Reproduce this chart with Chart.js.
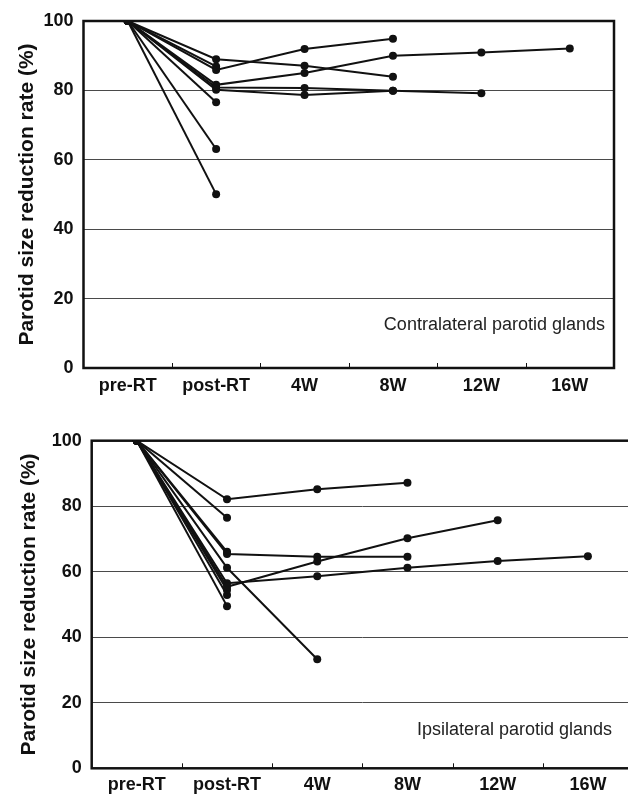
<!DOCTYPE html>
<html><head><meta charset="utf-8">
<script src="https://cdn.jsdelivr.net/npm/chart.js@4"></script>
<style>
html,body{margin:0;padding:0;background:#fff;width:628px;height:799px;overflow:hidden;position:relative}
#c1wrap{position:absolute;left:0;top:0;width:628px;height:400px}
#c2wrap{position:absolute;left:0;top:400px;width:650px;height:399px}
canvas{display:block}
</style></head><body>
<div id="c1wrap"><canvas id="c1" width="628" height="400"></canvas></div>
<div id="c2wrap"><canvas id="c2" width="650" height="399"></canvas></div>
<script>
// ---- data ----
const categories = ['pre-RT', 'post-RT', '4W', '8W', '12W', '16W'];
const yTicks = [0, 20, 40, 60, 80, 100];
const yTitle = 'Parotid size reduction rate (%)';

// Contralateral parotid glands (top panel)
const contra1 = [100, 85.9, 91.9, 94.9, null, null];
const contra2 = [100, 89.0, 87.1, 83.9, null, null];
const contra3 = [100, 81.6, 85.0, 90.0, 90.9, 92.1];
const contra4 = [100, 80.8, 80.7, 79.9, 79.2, null];
const contra5 = [100, 80.2, 78.7, 79.9, null, null];
const contra6 = [100, 86.9, null, null, null, null];
const contra7 = [100, 76.6, null, null, null, null];
const contra8 = [100, 63.1, null, null, null, null];
const contra9 = [100, 50.1, null, null, null, null];
const contraLabel = 'Contralateral parotid glands';

// Ipsilateral parotid glands (bottom panel)
const ipsi1 = [100, 82.1, 85.2, 87.2, null, null];
const ipsi2 = [100, 76.5, null, null, null, null];
const ipsi3 = [100, 65.4, 64.6, 64.6, null, null];
const ipsi4 = [100, 61.2, 33.3, null, null, null];
const ipsi5 = [100, 55.4, 63.1, 70.2, 75.7, null];
const ipsi6 = [100, 56.5, 58.6, 61.2, 63.3, 64.7];
const ipsi7 = [100, 54.4, null, null, null, null];
const ipsi8 = [100, 52.9, null, null, null, null];
const ipsi9 = [100, 49.5, null, null, null, null];
const ipsi10 = [100, 66.1, null, null, null, null];
const ipsiLabel = 'Ipsilateral parotid glands';

// ---- drawing ----
const FONT = "'Liberation Sans', Arial, Helvetica, sans-serif";
const INK = '#111';

function makeDatasets(list) {
  return list.map(d => ({
    data: d, borderColor: INK, backgroundColor: INK, borderWidth: 2,
    pointRadius: 4, pointHoverRadius: 4, pointBorderWidth: 0,
    tension: 0, spanGaps: false, fill: false
  }));
}

const framePlugin = {
  id: 'frame',
  beforeDatasetsDraw(chart) {
    const {ctx, chartArea: a, scales: {x}} = chart;
    ctx.save();
    ctx.strokeStyle = INK;
    ctx.lineWidth = 2.5;
    ctx.strokeRect(a.left, a.top, a.right - a.left, a.bottom - a.top);
    ctx.lineWidth = 1;
    ctx.beginPath();
    for (let i = 1; i < categories.length; i++) {
      const px = Math.round((x.getPixelForValue(i - 1) + x.getPixelForValue(i)) / 2) + 0.5;
      ctx.moveTo(px, a.bottom);
      ctx.lineTo(px, a.bottom - 5);
    }
    ctx.stroke();
    ctx.restore();
  },
  afterDraw(chart, args, opts) {
    const {ctx, chartArea: a, scales: {y}} = chart;
    ctx.save();
    ctx.fillStyle = '#222';
    ctx.font = '18px ' + FONT;
    ctx.textAlign = 'right';
    ctx.textBaseline = 'middle';
    ctx.fillText(opts.text, a.right - opts.dx, y.getPixelForValue(opts.v));
    ctx.restore();
  }
};

function makeChart(id, series, cfg) {
  return new Chart(document.getElementById(id), {
    type: 'line',
    data: { labels: categories, datasets: makeDatasets(series) },
    options: {
      responsive: false, animation: false, devicePixelRatio: 1,
      layout: { padding: { top: cfg.top, right: cfg.right, left: 0, bottom: 0 } },
      plugins: {
        legend: { display: false }, tooltip: { enabled: false },
        frame: { text: cfg.text, dx: cfg.dx, v: cfg.v }
      },
      scales: {
        x: {
          type: 'category', offset: true,
          grid: { display: false, drawTicks: false },
          border: { display: false },
          ticks: { color: INK, font: { family: FONT, size: 18, weight: 'bold' }, padding: cfg.xpad, maxRotation: 0, autoSkip: false },
          afterFit(s) { s.height = cfg.xh; }
        },
        y: {
          min: 0, max: 100,
          afterBuildTicks(s) { s.ticks = yTicks.map(v => ({ value: v })); },
          grid: {
            drawTicks: false, lineWidth: 1,
            color: c => (c.tick && (c.tick.value === 0 || c.tick.value === 100)) ? 'rgba(0,0,0,0)' : '#4a4a4a'
          },
          border: { display: false },
          ticks: { color: INK, font: { family: FONT, size: 18, weight: 'bold' }, padding: 10 },
          title: { display: true, text: yTitle, color: INK, font: { family: FONT, size: 21, weight: 'bold' }, padding: { top: cfg.tpad, bottom: 0 } },
          afterFit(s) { s.width = cfg.yw; }
        }
      }
    },
    plugins: [framePlugin]
  });
}

makeChart('c1', [contra1, contra2, contra3, contra4, contra5, contra6, contra7, contra8, contra9],
  { top: 21, right: 14, xh: 32, yw: 83.5, xpad: 7, tpad: 15, text: contraLabel, dx: 9, v: 12.4 });
makeChart('c2', [ipsi1, ipsi2, ipsi3, ipsi4, ipsi5, ipsi6, ipsi7, ipsi8, ipsi9, ipsi10],
  { top: 40.7, right: 17, xh: 30.7, yw: 91.7, xpad: 6, tpad: 17, text: ipsiLabel, dx: 21, v: 11.7 });
</script>
</body></html>
